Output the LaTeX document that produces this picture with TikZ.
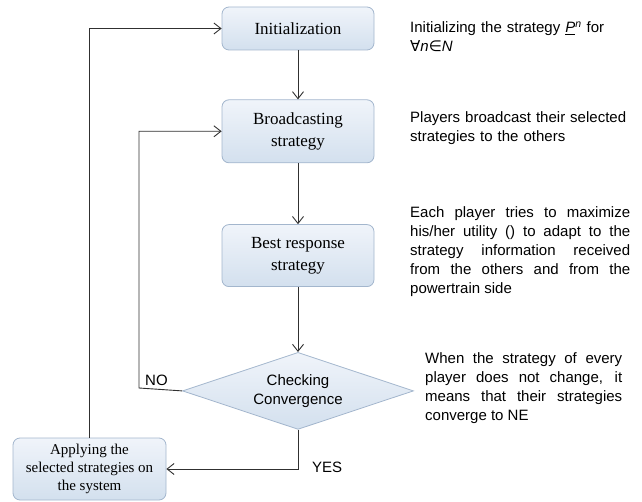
\documentclass[tikz,border=0pt]{standalone}
\usepackage{fontspec}
\setmainfont{Liberation Serif}
\setsansfont{Liberation Sans}
\newfontfamily\symfont{DejaVu Sans}
\usepackage{tikz}
\usetikzlibrary{shapes.geometric, arrows.meta, positioning}
\definecolor{boxedge}{HTML}{A3B6CD}
\definecolor{boxtop}{HTML}{F0F4FA}
\definecolor{boxbottom}{HTML}{D3E0EE}
\definecolor{linegray}{HTML}{303030}

\begin{document}
\begin{tikzpicture}[
    x=1pt, y=1pt,
    stepbox/.style={rectangle, rounded corners=7pt, draw=boxedge, line width=0.8pt, top color=boxtop, bottom color=boxbottom, minimum width=152pt, align=center, font=\fontsize{17}{21.5}\selectfont},
    decision/.style={diamond, aspect=3, draw=boxedge, line width=0.8pt, top color=boxtop, bottom color=boxbottom, minimum width=231pt, minimum height=77pt, inner sep=0pt, align=center, font=\sffamily\fontsize{15}{19}\selectfont},
    note/.style={inner sep=0pt, text width=220pt, font=\sffamily\fontsize{15}{19}\selectfont},
    tag/.style={inner sep=0pt, font=\sffamily\fontsize{15}{17}\selectfont},
    arrow/.style={-{Straight Barb[length=7pt, width=11pt]}, draw=linegray, line width=0.9pt}
]
\useasboundingbox (0,0) rectangle (642,-502);

\node[stepbox, minimum height=43pt] (init) at (298,-28.5) {Initialization};
\node[stepbox, minimum height=63pt, below=49pt of init] (bcast) {Broadcasting\\strategy};
\node[stepbox, minimum height=62pt, below=61pt of bcast] (best) {Best response\\strategy};
\node[decision, below=65pt of best] (check) {Checking\\Convergence};
\node[stepbox, minimum height=62pt, minimum width=153pt, font=\fontsize{15}{18}\selectfont] (apply) at (89.5,-469) {Applying the\\selected strategies on\\the system};

\node[note, align=left, anchor=base west] (initnote) at (410,-33) {Initializing the strategy \underline{\textit{P}}\textsuperscript{\textit{n}} for {\symfont\itshape ∀}\textit{n}{\symfont\itshape ∈}\textit{N}};
\node[note, align=left, anchor=base west] (bcastnote) at (410,-123) {Players broadcast their selected strategies to the others};
\node[note, align=justify, anchor=base west] (bestnote) at (410,-218) {Each player tries to maximize his/her utility () to adapt to the strategy information received from the others and from the powertrain side};
\node[note, text width=197pt, align=justify, anchor=base west] (checknote) at (425,-363) {When the strategy of every player does not change, it means that their strategies converge to NE};

\coordinate (noturn) at (139,-388);

\draw[arrow] (init) -- (bcast);
\draw[arrow] (bcast) -- (best);
\draw[arrow] (best) -- (check);
\draw[arrow] (check.west) -- (noturn) |- (bcast.west);
\draw[arrow] (check.south) |- (apply.east);
\draw[arrow] (apply.north) |- (init.west);

\node[tag, anchor=base west] (nolabel) at (145,-385) {NO};
\node[tag, anchor=base west] (yeslabel) at (312,-472) {YES};

\end{tikzpicture}
\end{document}
